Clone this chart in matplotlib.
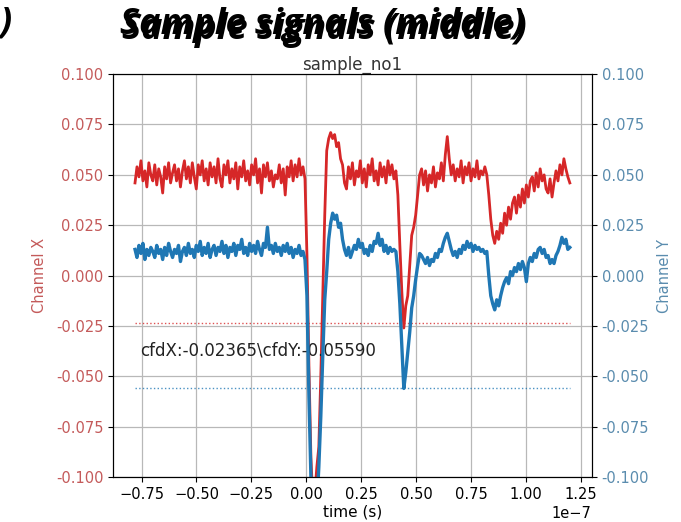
import numpy as np
import matplotlib
matplotlib.use("Agg")
import matplotlib.pyplot as plt

# ---- data ----
t_start, t_end = -0.78e-7, 1.2e-7
red_values = [
    0.046, 0.054, 0.049, 0.057, 0.047, 0.052, 0.044, 0.056, 0.050, 0.047,
    0.055, 0.045, 0.053, 0.049, 0.041, 0.054, 0.048, 0.056, 0.046, 0.051,
    0.055, 0.047, 0.053, 0.044, 0.052, 0.057, 0.048, 0.054, 0.046, 0.056,
    0.049, 0.043, 0.055, 0.050, 0.057, 0.047, 0.053, 0.045, 0.056, 0.049,
    0.054, 0.046, 0.058, 0.048, 0.044, 0.055, 0.050, 0.057, 0.046, 0.053,
    0.048, 0.056, 0.043, 0.054, 0.049, 0.057, 0.047, 0.052, 0.045, 0.055,
    0.050, 0.058, 0.046, 0.053, 0.041, 0.055, 0.049, 0.056, 0.047, 0.052,
    0.044, 0.050, 0.048, 0.055, 0.046, 0.053, 0.040, 0.054, 0.049, 0.057,
    0.047, 0.055, 0.049, 0.058, 0.050, 0.054,
    0.048, 0.010, -0.045, -0.090, -0.112, -0.108, -0.095, -0.085, -0.050, -0.010,
    0.030, 0.062, 0.068, 0.071, 0.068, 0.070, 0.064, 0.066, 0.058, 0.055, 0.046,
    0.043, 0.054, 0.048, 0.056, 0.045, 0.052, 0.049, 0.057, 0.046, 0.053,
    0.044, 0.055, 0.050, 0.058, 0.047, 0.052, 0.045, 0.056, 0.049, 0.054,
    0.046, 0.057, 0.050, 0.055, 0.048,
    0.052, 0.040, 0.015, -0.008, -0.026, -0.015, -0.010, 0.005, 0.020, 0.024,
    0.030, 0.040, 0.050, 0.053,
    0.045, 0.052, 0.042, 0.050, 0.046, 0.054, 0.044, 0.051, 0.048, 0.056,
    0.047, 0.060, 0.069, 0.058, 0.050, 0.055, 0.047, 0.053, 0.049, 0.057,
    0.046, 0.054, 0.050, 0.056, 0.047, 0.053, 0.049, 0.057, 0.048, 0.052,
    0.050, 0.054,
    0.050, 0.040, 0.028, 0.020, 0.016, 0.022, 0.018,
    0.026, 0.021, 0.031, 0.025, 0.034, 0.028, 0.036, 0.039, 0.031, 0.040,
    0.034, 0.043, 0.036, 0.045, 0.039, 0.047, 0.049, 0.042, 0.051, 0.044,
    0.053, 0.047, 0.050, 0.043, 0.041, 0.048, 0.039, 0.046, 0.052, 0.047,
    0.055, 0.050, 0.058, 0.053, 0.049, 0.046,
]
blue_values = [
    0.013, 0.009, 0.015, 0.011, 0.016, 0.008, 0.013, 0.010, 0.014, 0.012,
    0.009, 0.015, 0.011, 0.013, 0.008, 0.014, 0.010, 0.016, 0.012, 0.009,
    0.013, 0.011, 0.015, 0.007, 0.012, 0.014, 0.010, 0.016, 0.011, 0.013,
    0.009, 0.015, 0.012, 0.017, 0.010, 0.014, 0.011, 0.016, 0.009, 0.013,
    0.015, 0.010, 0.014, 0.012, 0.017, 0.011, 0.015, 0.009, 0.014, 0.012,
    0.016, 0.010, 0.015, 0.013, 0.018, 0.011, 0.014, 0.010, 0.016, 0.012,
    0.015, 0.011, 0.017, 0.013, 0.010, 0.016, 0.014, 0.024, 0.013, 0.015,
    0.011, 0.016, 0.012, 0.014, 0.010, 0.015, 0.012, 0.016, 0.011, 0.014,
    0.009, 0.013, 0.011, 0.015, 0.010, 0.012,
    0.008, -0.010, -0.060, -0.100, -0.120, -0.125, -0.115, -0.095, -0.070, -0.040,
    -0.012, 0.002, 0.018, 0.026, 0.031, 0.028, 0.030, 0.024, 0.026, 0.018, 0.013,
    0.010, 0.014, 0.009, 0.012, 0.015, 0.013, 0.018, 0.014, 0.016, 0.011,
    0.013, 0.010, 0.015, 0.012, 0.017, 0.016, 0.021, 0.015, 0.018, 0.012,
    0.015, 0.011, 0.014, 0.012, 0.013,
    0.012, 0.002, -0.014, -0.035, -0.056, -0.048, -0.038, -0.028, -0.016, -0.010,
    -0.002, 0.005, 0.011, 0.010,
    0.008, 0.006, 0.009, 0.005, 0.008, 0.007, 0.011, 0.009, 0.013, 0.012,
    0.016, 0.019, 0.021, 0.017, 0.013, 0.010, 0.012, 0.009, 0.013, 0.011,
    0.015, 0.013, 0.017, 0.014, 0.016, 0.012, 0.015, 0.013, 0.014, 0.012,
    0.013, 0.011,
    0.012, 0.000, -0.010, -0.014, -0.017, -0.012, -0.015,
    -0.010, -0.006, -0.003, -0.001, -0.004, 0.002, 0.000, 0.004, 0.002, 0.006,
    0.003, 0.007, 0.004, -0.003, 0.006, 0.009, 0.007, 0.011, 0.009, 0.013,
    0.014, 0.011, 0.013, 0.009, 0.010, 0.006, 0.008, 0.006, 0.010, 0.012,
    0.015, 0.019, 0.016, 0.018, 0.013, 0.014,
]
cfd_x = -0.02365
cfd_y = -0.05590
y_ticks = [-0.100, -0.075, -0.050, -0.025, 0.000, 0.025, 0.050, 0.075, 0.100]

time = np.linspace(t_start, t_end, len(red_values))

RED = "#d62728"
BLUE = "#1f77b4"
RED_LBL = "#c45a5a"
BLUE_LBL = "#5a8cae"

fig = plt.figure(figsize=(6.81, 5.22), dpi=100)
ax = fig.add_axes([0.166, 0.086, 0.703, 0.772])
ax2 = ax.twinx()

ax.plot(time, red_values, color=RED, lw=2.0)
ax2.plot(time, blue_values, color=BLUE, lw=2.4)
ax.plot([t_start, t_end], [cfd_x, cfd_x], color=RED, lw=1.0, ls=":", alpha=0.8)
ax2.plot([t_start, t_end], [cfd_y, cfd_y], color=BLUE, lw=1.0, ls=":", alpha=0.8)

ax.set_ylim(-0.1, 0.1)
ax2.set_ylim(-0.1, 0.1)
ax.set_yticks(y_ticks)
ax2.set_yticks(y_ticks)
ax.yaxis.set_major_formatter(matplotlib.ticker.FormatStrFormatter("%.3f"))
ax2.yaxis.set_major_formatter(matplotlib.ticker.FormatStrFormatter("%.3f"))
ax.set_xlim(-0.88e-7, 1.3e-7)
ax.set_xticks(np.arange(-0.75e-7, 1.26e-7, 0.25e-7))

ax.tick_params(axis="y", labelcolor=RED_LBL, labelsize=10.5)
ax2.tick_params(axis="y", labelcolor=BLUE_LBL, labelsize=10.5)
ax.tick_params(axis="x", labelsize=10.5)
ax.xaxis.get_offset_text().set_fontsize(10.5)
ax.grid(True, color="#b8b8b8", lw=0.9)

ax.set_ylabel("Channel X", color=RED_LBL, fontsize=10.5, labelpad=6)
ax2.set_ylabel("Channel Y", color=BLUE_LBL, fontsize=10.5, labelpad=6)
ax.set_xlabel("time (s)", fontsize=11, labelpad=2)
ax.set_title("sample_no1", fontsize=12, color="#333333", pad=3)

ax.text(-0.755e-7, -0.037, "cfdX:-0.02365\\cfdY:-0.05590", fontsize=12,
        color="#222222", va="center", ha="left")

title_kw = dict(fontsize=26, fontweight="bold", style="italic",
                family=["Open Sans", "DejaVu Sans"], ha="center", va="center",
                color="black")
fig.text(0.473, 0.953, "Sample signals (middle)", **title_kw)
fig.text(0.476, 0.943, "Sample signals (middle)", **title_kw)
fig.text(0.018, 0.955, ")", fontsize=26, fontweight="bold", style="italic",
         family=["Open Sans", "DejaVu Sans"], ha="right", va="center")

fig.savefig("out.png", dpi=100)
